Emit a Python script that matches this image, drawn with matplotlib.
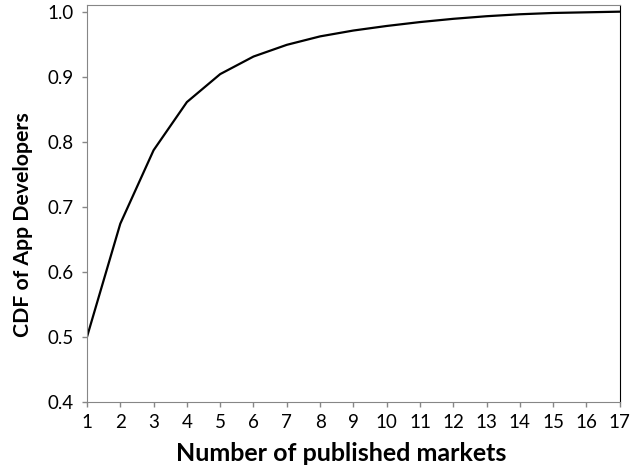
import numpy as np
import matplotlib.pyplot as plt

# number of markets an app developer has published to, and the CDF
markets = [1, 2, 3, 4, 5, 6, 7, 8, 9, 10, 11, 12, 13, 14, 15, 16, 17]
cdf = [0.500, 0.674, 0.787, 0.861, 0.904, 0.931, 0.949, 0.962, 0.971,
       0.978, 0.984, 0.989, 0.993, 0.996, 0.998, 0.999, 1.000]

plt.rcParams['font.family'] = ['Lato', 'DejaVu Sans']

fig = plt.figure(figsize=(6.35, 4.69), dpi=100)
ax = fig.add_axes([0.137, 0.143, 0.839, 0.846])

ax.plot(markets, cdf, color='black', lw=1.6)

ax.set_xlim(1, 17)
ax.set_ylim(0.4, 1.01)
ax.set_xticks(markets)
ax.set_yticks([0.4, 0.5, 0.6, 0.7, 0.8, 0.9, 1.0])
ax.set_yticklabels(['0.4', '0.5', '0.6', '0.7', '0.8', '0.9', '1.0'])
ax.tick_params(labelsize=13.5, length=3.6, width=1, color='#868686')
ax.tick_params(axis='x', pad=5)
ax.tick_params(axis='y', pad=6)

for side in ['left', 'bottom', 'top']:
    ax.spines[side].set_color('#868686')
ax.spines['right'].set_color('black')

ax.set_xlabel('Number of published markets', fontsize=18, fontweight='bold')
ax.xaxis.set_label_coords(0.478, -0.1)
ax.set_ylabel('CDF of App Developers', fontsize=15.3, fontweight='bold')
ax.yaxis.set_label_coords(-0.101, 0.446)

fig.savefig('out.png', dpi=100)
